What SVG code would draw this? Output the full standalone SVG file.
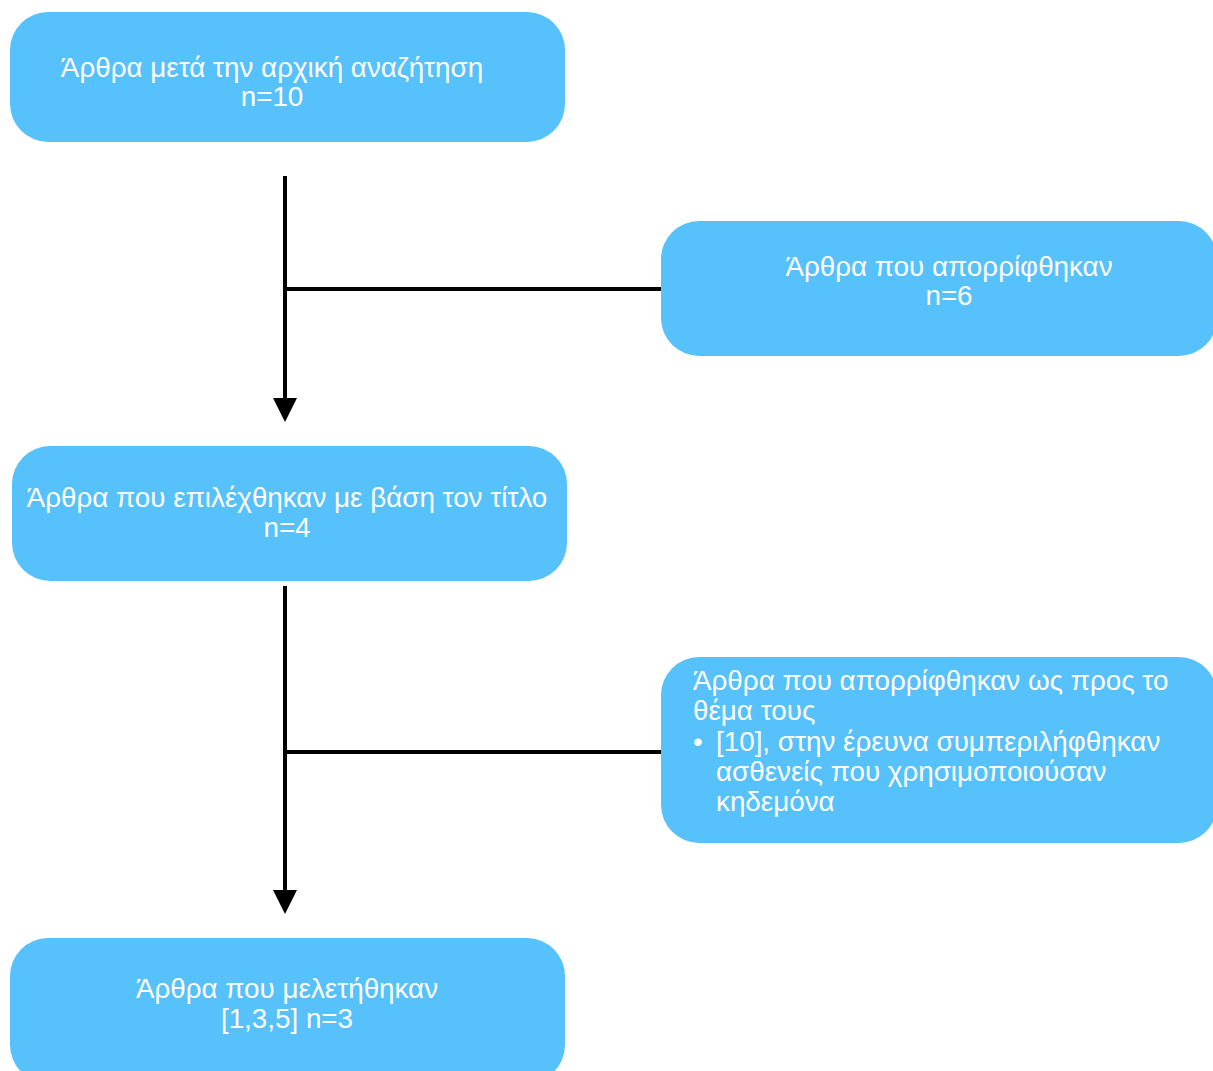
<svg xmlns="http://www.w3.org/2000/svg" width="1213" height="1071" viewBox="0 0 1213 1071">
<style>
.box{fill:#56C1FB;}
.t{font-family:"Liberation Sans",Arial,sans-serif;font-size:27.8px;fill:#ffffff;}
.c{text-anchor:middle;}
.ln{stroke:#000;stroke-width:4;fill:none;}
</style>
<defs>
<marker id="arr" markerWidth="6" markerHeight="6" refX="0" refY="3" orient="auto" markerUnits="strokeWidth">
<path d="M0,0 L6,3 L0,6 Z" fill="#000"/>
</marker>
</defs>
<rect width="1213" height="1071" fill="#fff"/>
<g id="connectors">
<line class="ln" x1="285" y1="176" x2="285" y2="398" marker-end="url(#arr)"/>
<line class="ln" x1="285" y1="289" x2="661" y2="289"/>
<line class="ln" x1="285" y1="586" x2="285" y2="890" marker-end="url(#arr)"/>
<line class="ln" x1="285" y1="752" x2="661" y2="752"/>
</g>
<g id="n1">
<rect class="box" x="10" y="12" width="555" height="130" rx="38"/>
<text class="t c" x="272" y="77">Άρθρα μετά την αρχική αναζήτηση</text>
<text class="t c" x="272" y="106">n=10</text>
</g>
<g id="n2">
<rect class="box" x="661" y="221" width="556" height="135" rx="38"/>
<text class="t c" x="949" y="276">Άρθρα που απορρίφθηκαν</text>
<text class="t c" x="949" y="305">n=6</text>
</g>
<g id="n3">
<rect class="box" x="12" y="446" width="555" height="135" rx="38"/>
<text class="t c" x="287" y="507">Άρθρα που επιλέχθηκαν με βάση τον τίτλο</text>
<text class="t c" x="287" y="537">n=4</text>
</g>
<g id="n4">
<rect class="box" x="661" y="657" width="556" height="186" rx="38"/>
<text class="t" x="693" y="690">Άρθρα που απορρίφθηκαν ως προς το</text>
<text class="t" x="693" y="720">θέμα τους</text>
<text class="t" x="693" y="751">•</text>
<text class="t" x="716" y="751">[10], στην έρευνα συμπεριλήφθηκαν</text>
<text class="t" x="716" y="781">ασθενείς που χρησιμοποιούσαν</text>
<text class="t" x="716" y="811">κηδεμόνα</text>
</g>
<g id="n5">
<rect class="box" x="10" y="938" width="555" height="145" rx="38"/>
<text class="t c" x="287" y="998">Άρθρα που μελετήθηκαν</text>
<text class="t c" x="287" y="1028">[1,3,5] n=3</text>
</g>
</svg>
